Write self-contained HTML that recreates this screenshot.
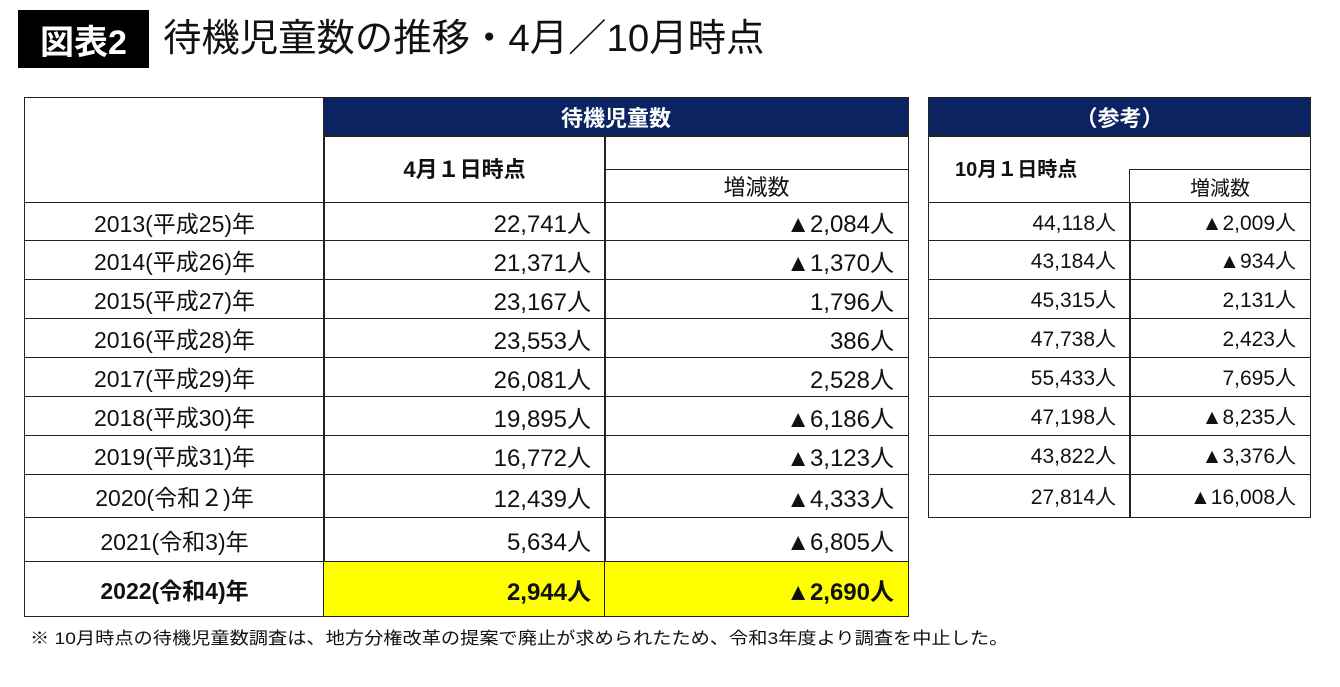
<!DOCTYPE html>
<html><head><meta charset="utf-8">
<style>
body{margin:0;width:1340px;height:687px;background:#fff;position:relative;overflow:hidden;font-family:"Liberation Sans","Noto Sans CJK JP",sans-serif;color:#111}
.a{position:absolute;box-sizing:border-box}
.c{position:absolute;box-sizing:border-box;border:1.5px solid #222;display:flex;align-items:center;white-space:nowrap}
.nv{background:#0b2461;color:#fff;font-weight:bold;justify-content:center;font-size:22px}
.r{justify-content:flex-end;padding-right:14px}
.m{justify-content:center}
</style></head><body>
<div class="a" style="left:18px;top:10px;width:131px;height:58px;background:#000;color:#fff;font-size:34px;font-weight:bold;display:flex;align-items:center;justify-content:center">図表2</div>
<div class="a" style="left:163px;top:12px;font-size:38px;line-height:54px;white-space:nowrap;transform-origin:left;transform:scaleX(1.01)">待機児童数の推移・4月／10月時点</div>
<div id="tbl"></div>
<div class="a" style="left:30px;top:624px;font-size:17px;white-space:nowrap;transform-origin:left;transform:scaleX(1.13)">※ 10月時点の待機児童数調査は、地方分権改革の提案で廃止が求められたため、令和3年度より調査を中止した。</div>
<script>
const years=["2013(平成25)年","2014(平成26)年","2015(平成27)年","2016(平成28)年","2017(平成29)年","2018(平成30)年","2019(平成31)年","2020(令和２)年","2021(令和3)年","2022(令和4)年"];
const aprValues=["22,741人","21,371人","23,167人","23,553人","26,081人","19,895人","16,772人","12,439人","5,634人","2,944人"];
const aprChanges=["▲2,084人","▲1,370人","1,796人","386人","2,528人","▲6,186人","▲3,123人","▲4,333人","▲6,805人","▲2,690人"];
const octValues=["44,118人","43,184人","45,315人","47,738人","55,433人","47,198人","43,822人","27,814人"];
const octChanges=["▲2,009人","▲934人","2,131人","2,423人","7,695人","▲8,235人","▲3,376人","▲16,008人"];
const rowEdges=[202,240,279,318,357,396,435,474,517,561,616];
const T=document.getElementById('tbl');
function cell(cls,x,y,w,h,txt,style){const d=document.createElement('div');d.className='c '+cls;d.style.cssText=`left:${x}px;top:${y}px;width:${w}px;height:${h}px;`+(style||'');d.textContent=txt;T.appendChild(d);return d;}
let e;
e=cell('',24,97,301,106,'');


e=cell('nv',323,97,586,40,'待機児童数');


e=cell('m',323,135,283,68,'4月１日時点','font-weight:bold;font-size:22px;padding-bottom:2px');


e=cell('m',604,135,305,68,'');


e=cell('m',604,169,305,34,'増減数','font-size:22px');


e=cell('nv',928,97,383,40,'（参考）');


e=cell('m',928,135,383,68,'');


e=cell('',928,135,203,68,'10月１日時点','border-right:none;font-weight:bold;font-size:20px;padding-left:26px;padding-bottom:3px');


e=cell('m',1129,169,182,34,'増減数','font-size:20px');


for(let i=0;i<years.length;i++){
  const y=rowEdges[i],h=rowEdges[i+1]-y+1,last=i===years.length-1;
  const bs=last?'font-weight:bold;':'';
  const yl=last?'background:#ffff00;':'';
  e=cell('m',24,y,301,h,years[i],'font-size:23px;'+bs);
  
  
  e=cell('r',323,y,283,h,aprValues[i],'font-size:24px;'+bs+yl);
  
  
  e=cell('r',604,y,305,h,aprChanges[i],'font-size:24px;'+bs+yl);
  
  
  if(i<octValues.length){
    e=cell('r',928,y,203,h,octValues[i],'font-size:21px;');
    
    
    e=cell('r',1129,y,182,h,octChanges[i],'font-size:21px;');
    
    
  }
}
</script>
</body></html>
